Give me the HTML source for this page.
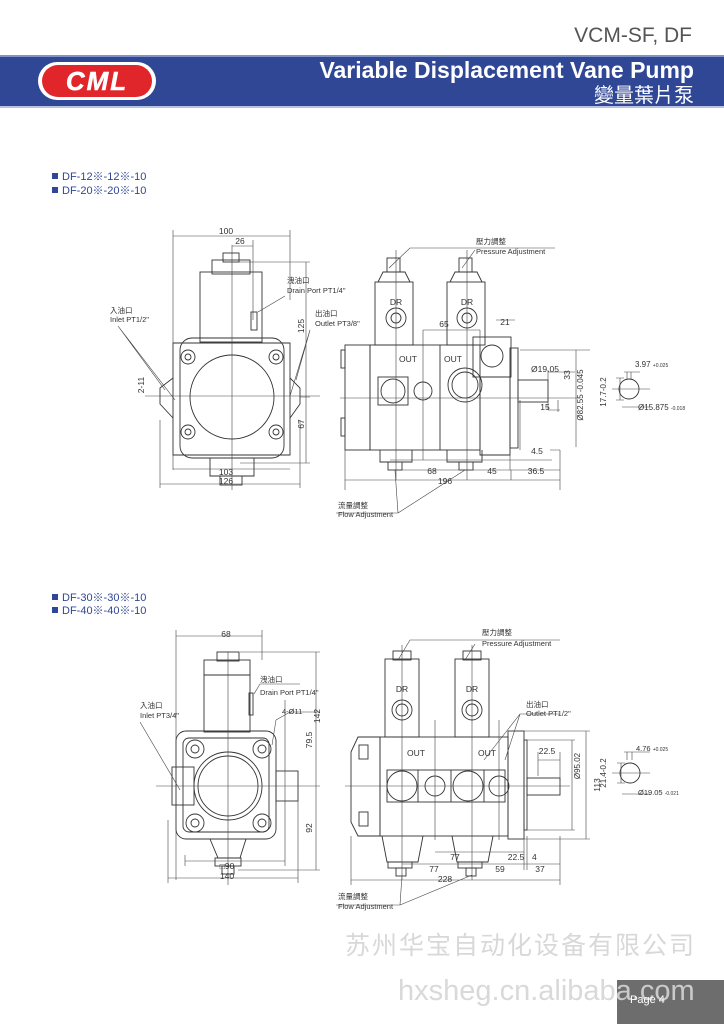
<!DOCTYPE html>
<html><head><meta charset="utf-8"><style>
body{margin:0;background:#fff;}
svg{display:block;font-family:"Liberation Sans","Noto Sans CJK TC",sans-serif;}
</style></head><body>
<svg width="724" height="1024" viewBox="0 0 724 1024" xmlns="http://www.w3.org/2000/svg">
<rect width="724" height="1024" fill="#fff"/>
<!-- header -->
<text x="692" y="42" font-size="21" fill="#555" text-anchor="end">VCM-SF, DF</text>
<rect x="0" y="55" width="724" height="52" fill="#2f4795"/>
<rect x="0" y="55" width="724" height="2" fill="#7f93c8"/>
<rect x="0" y="106" width="724" height="2" fill="#b7c3e2"/>
<rect x="38" y="62" width="118" height="38" rx="19" fill="#fff"/>
<rect x="42" y="65" width="110" height="32" rx="16" fill="#e0262b"/>
<text x="97" y="90" font-size="26" font-weight="bold" font-style="italic" fill="#fff" text-anchor="middle" stroke="#fff" stroke-width="0.5" letter-spacing="2">CML</text>
<text x="694" y="78" font-size="23" font-weight="bold" fill="#fff" text-anchor="end">Variable Displacement Vane Pump</text>
<text x="694" y="102" font-size="20" fill="#fff" text-anchor="end">變量葉片泵</text>

<g font-size="11" fill="#2f4795">
<rect x="52" y="173" width="6" height="6" fill="#2f4795"/><text x="62" y="180">DF-12※-12※-10</text>
<rect x="52" y="187" width="6" height="6" fill="#2f4795"/><text x="62" y="194">DF-20※-20※-10</text>
<rect x="52" y="594" width="6" height="6" fill="#2f4795"/><text x="62" y="601">DF-30※-30※-10</text>
<rect x="52" y="607" width="6" height="6" fill="#2f4795"/><text x="62" y="614">DF-40※-40※-10</text>
</g>

<g fill="none" stroke="#333" stroke-width="0.9">
<!-- TOP LEFT VIEW -->
<rect x="200" y="272" width="62" height="70"/>
<rect x="212" y="260" width="38" height="14"/>
<rect x="223" y="253" width="16" height="9"/>
<path d="M173 343 H290 V455 H173 Z"/>
<rect x="180" y="338" width="104" height="120" rx="12"/>
<path d="M173 378 L160 388 V404 L173 418"/>
<path d="M290 378 L300 388 V404 L290 418"/>
<circle cx="232" cy="397" r="42"/>
<circle cx="188" cy="357" r="7"/><circle cx="188" cy="357" r="3"/>
<circle cx="276" cy="357" r="7"/><circle cx="276" cy="357" r="3"/>
<circle cx="188" cy="432" r="7"/><circle cx="188" cy="432" r="3"/>
<circle cx="276" cy="432" r="7"/><circle cx="276" cy="432" r="3"/>
<path d="M210 458 V476 H254 V458"/>
<rect x="220" y="476" width="22" height="9"/>
<rect x="251" y="312" width="6" height="18"/>

<!-- TOP RIGHT VIEW -->
<rect x="345" y="345" width="25" height="105"/>
<rect x="341" y="350" width="4" height="18"/><rect x="341" y="418" width="4" height="18"/>
<rect x="370" y="345" width="110" height="105"/>
<line x1="440" y1="345" x2="440" y2="450"/>
<rect x="375" y="282" width="38" height="63"/>
<path d="M378 282 L383 272 H405 L410 282"/>
<rect x="387" y="258" width="13" height="14"/>
<rect x="447" y="282" width="38" height="63"/>
<path d="M450 282 L455 272 H477 L482 282"/>
<rect x="459" y="258" width="13" height="14"/>
<circle cx="396" cy="318" r="10"/><circle cx="396" cy="318" r="5"/>
<circle cx="467" cy="318" r="10"/><circle cx="467" cy="318" r="5"/>
<rect x="473" y="337" width="38" height="40"/>
<circle cx="492" cy="356" r="11"/>
<path d="M480 377 H510 V455 H480 Z"/>
<rect x="510" y="348" width="8" height="100"/>
<rect x="518" y="380" width="30" height="22"/>
<rect x="378" y="377" width="30" height="28"/>
<circle cx="393" cy="391" r="12"/>
<circle cx="423" cy="391" r="9"/>
<circle cx="465" cy="385" r="17"/><circle cx="465" cy="385" r="13"/>
<path d="M380 450 V462 H412 V450"/><rect x="388" y="462" width="14" height="8"/>
<path d="M447 450 V462 H482 V450"/><rect x="459" y="462" width="14" height="8"/>
<circle cx="629" cy="389" r="10"/>

<!-- BOTTOM LEFT VIEW -->
<rect x="204" y="660" width="46" height="72"/>
<line x1="204" y1="675" x2="250" y2="675"/>
<rect x="217" y="652" width="22" height="9"/>
<rect x="176" y="731" width="100" height="108" rx="10"/>
<rect x="183" y="738" width="86" height="94" rx="6"/>
<circle cx="228" cy="786" r="34"/><circle cx="228" cy="786" r="30"/>
<circle cx="195" cy="749" r="9"/><circle cx="195" cy="749" r="4"/>
<circle cx="262" cy="749" r="9"/><circle cx="262" cy="749" r="4"/>
<circle cx="195" cy="823" r="9"/><circle cx="195" cy="823" r="4"/>
<circle cx="262" cy="823" r="9"/><circle cx="262" cy="823" r="4"/>
<rect x="172" y="767" width="22" height="38"/>
<rect x="276" y="771" width="22" height="30"/>
<path d="M210 839 L218 858 H240 L246 839"/>
<rect x="215" y="858" width="26" height="8"/>
<rect x="222" y="866" width="12" height="8"/>
<rect x="249" y="693" width="4" height="22"/>

<!-- BOTTOM RIGHT VIEW -->
<path d="M351 752 L358 737 H380 V836 H358 L351 822 Z"/>
<rect x="359" y="745" width="9" height="14"/><rect x="359" y="812" width="9" height="14"/>
<rect x="380" y="737" width="128" height="99"/>
<rect x="385" y="659" width="34" height="78"/>
<rect x="393" y="651" width="18" height="9"/>
<rect x="455" y="659" width="34" height="78"/>
<rect x="463" y="651" width="18" height="9"/>
<circle cx="402" cy="710" r="10"/><circle cx="402" cy="710" r="6"/>
<circle cx="472" cy="710" r="10"/><circle cx="472" cy="710" r="6"/>
<rect x="387" y="770" width="118" height="32"/>
<line x1="418" y1="770" x2="418" y2="802"/>
<line x1="451" y1="770" x2="451" y2="802"/>
<line x1="484" y1="770" x2="484" y2="802"/>
<circle cx="402" cy="786" r="15"/><circle cx="435" cy="786" r="10"/>
<circle cx="468" cy="786" r="15"/><circle cx="499" cy="786" r="10"/>
<rect x="508" y="731" width="16" height="108"/>
<rect x="524" y="740" width="3" height="90"/>
<rect x="527" y="778" width="33" height="17"/>
<path d="M382 836 L387 862 H418 L423 836"/><rect x="388" y="862" width="24" height="6"/><rect x="396" y="868" width="10" height="8"/>
<path d="M452 836 L457 862 H488 L493 836"/><rect x="458" y="862" width="24" height="6"/><rect x="466" y="868" width="10" height="8"/>
<circle cx="630" cy="773" r="10"/>
</g>

<!-- dimension / leader lines -->
<g fill="none" stroke="#444" stroke-width="0.6">
<path d="M173 236 H290 M173 230 V470 M290 230 V300 M232 246 H253 M253 240 V320 M235 262 H310 M306 262 V463 M300 397 H310 M240 463 H310 M173 469 H290 M160 484 H300 M160 420 V488 M300 420 V488 M145 396 H320 M232 245 V490"/>
<path d="M118 326 L165 390 M118 326 L175 400 M285 296 L258 312 M310 330 L290 396 M310 330 L296 380"/>
<path d="M340 398 H560 M396 250 V480 M467 250 V480 M423 330 V460 M423 330 H480 M480 330 V350 M496 320 H515 M520 400 V450 M520 398 H580 M520 350 H590 M576 350 V447 M548 372 H575 M548 370 V410 M548 410 H560 M558 400 V412 M510 448 V470 M550 450 H560 M390 460 H552 M396 470 H560 M345 480 H560 M345 450 V490 M560 450 V490 M511 480 V470"/>
<path d="M470 248 H555 M389 268 L410 248 H470 M462 268 L475 250 M336 513 H398 M398 513 L395 470 M398 513 L465 470"/>
<path d="M612 389 H650 M620 378 V400 M616 378 H624 M616 400 H624 M624 372 H640 M627 372 V380 M631 372 V380 M622 407 H650"/>
<path d="M176 636 H262 M176 630 V880 M262 630 V660 M240 652 H320 M316 652 V870 M270 786 H320 M238 870 H320 M185 861 H285 M185 855 V866 M285 700 V866 M168 878 H298 M168 820 V883 M298 800 V883 M156 786 H305 M228 652 V885"/>
<path d="M140 722 L180 790 M254 694 L260 684 H300 M276 720 L290 712 H320 M272 745 L276 720"/>
<path d="M345 786 H570 M402 645 V880 M472 645 V880 M435 720 V840 M499 720 V840 M470 640 H560 M398 660 L410 640 H470 M465 660 L475 644 M484 760 L520 714 H560 M520 714 L505 760 M538 752 V776 M538 760 H560 M560 752 V780 M527 740 H575 M527 830 H575 M572 740 V830 M508 731 H590 M508 839 H590 M586 731 V839 M435 852 H524 M402 864 H560 M351 880 H560 M351 836 V885 M560 836 V885 M524 836 V870 M527 836 V870 M336 905 H400 M400 905 L402 875 M400 905 L472 875"/>
<path d="M612 773 H650 M621 763 V783 M617 763 H625 M617 783 H625 M624 752 H650 M627 752 V760 M632 752 V760 M622 794 H650"/>
</g>

<g font-size="8.5" fill="#333">
<text x="226" y="234" text-anchor="middle">100</text>
<text x="240" y="244" text-anchor="middle">26</text>
<text x="304" y="326" transform="rotate(-90 304 326)" text-anchor="middle">125</text>
<text x="304" y="424" transform="rotate(-90 304 424)" text-anchor="middle">67</text>
<text x="144" y="385" transform="rotate(-90 144 385)" text-anchor="middle">2-11</text>
<text x="226" y="475" text-anchor="middle">103</text>
<text x="226" y="484" text-anchor="middle">126</text>
<text x="110" y="313" font-size="7.5">入油口</text><text x="110" y="322" font-size="7.5">Inlet PT1/2"</text>
<text x="287" y="283" font-size="7.5">洩油口</text><text x="287" y="293" font-size="7.5">Drain Port PT1/4"</text>
<text x="315" y="316" font-size="7.5">出油口</text><text x="315" y="326" font-size="7.5">Outlet PT3/8"</text>
<text x="476" y="244" font-size="7.5">壓力調整</text><text x="476" y="254" font-size="7.5">Pressure Adjustment</text>
<text x="396" y="305" text-anchor="middle">DR</text><text x="467" y="305" text-anchor="middle">DR</text>
<text x="408" y="362" text-anchor="middle">OUT</text><text x="453" y="362" text-anchor="middle">OUT</text>
<text x="444" y="327" text-anchor="middle">65</text><text x="505" y="325" text-anchor="middle">21</text>
<text x="545" y="372" text-anchor="middle">Ø19.05</text>
<text x="570" y="375" transform="rotate(-90 570 375)" text-anchor="middle">33</text>
<text x="583" y="395" transform="rotate(-90 583 395)" text-anchor="middle" font-size="8">Ø82.55 -0.045</text>
<text x="545" y="410" text-anchor="middle">15</text>
<text x="537" y="454" text-anchor="middle">4.5</text>
<text x="432" y="474" text-anchor="middle">68</text><text x="492" y="474" text-anchor="middle">45</text><text x="536" y="474" text-anchor="middle">36.5</text>
<text x="445" y="484" text-anchor="middle">196</text>
<text x="338" y="508" font-size="7.5">流量調整</text><text x="338" y="517" font-size="7.5">Flow Adjustment</text>
<text x="635" y="367" font-size="8">3.97 <tspan font-size="5">+0.025</tspan></text>
<text x="606" y="392" transform="rotate(-90 606 392)" text-anchor="middle" font-size="8">17.7-0.2</text>
<text x="638" y="410" font-size="8">Ø15.875 <tspan font-size="5">-0.018</tspan></text>

<text x="226" y="637" text-anchor="middle">68</text>
<text x="260" y="682" font-size="7.5">洩油口</text><text x="260" y="695" font-size="7.5">Drain Port PT1/4"</text>
<text x="140" y="708" font-size="7.5">入油口</text><text x="140" y="718" font-size="7.5">Inlet PT3/4"</text>
<text x="282" y="714" font-size="7.5">4-Ø11</text>
<text x="320" y="716" transform="rotate(-90 320 716)" text-anchor="middle">142</text>
<text x="312" y="740" transform="rotate(-90 312 740)" text-anchor="middle">79.5</text>
<text x="312" y="828" transform="rotate(-90 312 828)" text-anchor="middle">92</text>
<text x="227" y="869" text-anchor="middle">□90</text>
<text x="227" y="879" text-anchor="middle">140</text>
<text x="482" y="635" font-size="7.5">壓力調整</text><text x="482" y="646" font-size="7.5">Pressure Adjustment</text>
<text x="402" y="692" text-anchor="middle">DR</text><text x="472" y="692" text-anchor="middle">DR</text>
<text x="416" y="756" text-anchor="middle">OUT</text><text x="487" y="756" text-anchor="middle">OUT</text>
<text x="526" y="707" font-size="7.5">出油口</text><text x="526" y="716" font-size="7.5">Outlet PT1/2"</text>
<text x="547" y="754" text-anchor="middle">22.5</text>
<text x="600" y="785" transform="rotate(-90 600 785)" text-anchor="middle">113</text>
<text x="580" y="766" transform="rotate(-90 580 766)" text-anchor="middle" font-size="8">Ø95.02</text>
<text x="455" y="860" text-anchor="middle">77</text><text x="516" y="860" text-anchor="middle">22.5</text><text x="532" y="860">4</text>
<text x="434" y="872" text-anchor="middle">77</text><text x="500" y="872" text-anchor="middle">59</text><text x="540" y="872" text-anchor="middle">37</text>
<text x="445" y="882" text-anchor="middle">228</text>
<text x="338" y="899" font-size="7.5">流量調整</text><text x="338" y="909" font-size="7.5">Flow Adjustment</text>
<text x="636" y="751" font-size="7.5">4.76 <tspan font-size="5">+0.025</tspan></text>
<text x="606" y="773" transform="rotate(-90 606 773)" text-anchor="middle" font-size="8">21.4-0.2</text>
<text x="638" y="795" font-size="7.5">Ø19.05 <tspan font-size="5">-0.021</tspan></text>
</g>

<!-- footer -->
<rect x="617" y="980" width="107" height="44" fill="#6d6d6d"/>
<text x="345" y="954" font-size="25" fill="#d8d8d8" font-family="'Noto Sans CJK SC',sans-serif" letter-spacing="2">苏州华宝自动化设备有限公司</text>
<text x="398" y="1000" font-size="29" fill="#d5d5d5" opacity="0.9">hxsheg.cn.alibaba.com</text>
<text x="630" y="1003" font-size="11" fill="#fff">Page 4</text>
</svg>
</body></html>
